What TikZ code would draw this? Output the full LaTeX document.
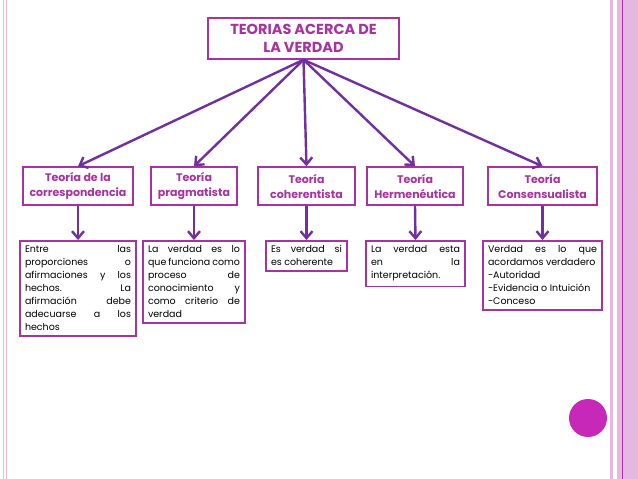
\documentclass[tikz,border=0pt]{standalone}
\usepackage{fontspec}
\setmainfont{Poppins}
\usetikzlibrary{arrows.meta}
\definecolor{borde}{RGB}{168,50,160}
\definecolor{morado}{RGB}{112,48,160}
\definecolor{bola}{RGB}{200,40,184}
\definecolor{franja}{RGB}{228,184,224}
\definecolor{raya}{RGB}{176,48,160}
\begin{document}
\begin{tikzpicture}[x=1pt, y=-1pt,
  caja/.style={draw=borde, line width=1.5pt, fill=white},
  teoria/.style={caja, text=borde, font=\bfseries\fontsize{11}{15}\selectfont, align=center, minimum height=38pt, inner sep=2pt},
  texto/.style={caja, anchor=north, font=\fontsize{9.5}{13}\selectfont, align=justify, inner sep=5pt},
  flecha/.style={draw=morado, line width=2.4pt, -{Straight Barb[length=7pt, width=12pt]}}]
      \fill[white] (0,0) rectangle (638,479);
      \useasboundingbox (0,0) rectangle (638,479);
      \draw[franja, line width=1.2pt] (3.8,0) -- (3.8,479);
      \draw[franja, line width=1.2pt] (6.2,0) -- (6.2,479);
      \draw[franja, line width=2.5pt] (611.5,0) -- (611.5,479);
      \fill[franja] (617,0) rectangle (638,479);
      \draw[raya, line width=1.2pt] (622.5,0) -- (622.5,479);
      \fill[bola] (588,418) circle (19);
      \node (titulo) at (303.5,38.5) [caja, text=borde, font=\bfseries\fontsize{14.5}{18}\selectfont, align=center, minimum width=191pt, minimum height=41pt] {TEORIAS ACERCA DE\\LA VERDAD};
      \node (t1) at (78,186) [teoria, minimum width=110pt] {Teoría de la\\correspondencia};
      \node (t2) at (194,186) [teoria, minimum width=86pt] {Teoría\\pragmatista};
      \node (t3) at (306.5,186) [teoria, minimum width=97pt] {Teoría\\coherentista};
      \node (t4) at (415,186) [teoria, minimum width=96pt] {Teoría\\Hermenéutica};
      \node (t5) at (542.5,186) [teoria, minimum width=109pt] {Teoría\\Consensualista};
      \node (d1) at (78,240) [texto, text width=106pt] {Entre las\linebreak proporciones o\linebreak afirmaciones y los\linebreak hechos. La\linebreak afirmación debe\linebreak adecuarse a los\linebreak hechos};
      \node (d2) at (194,240) [texto, text width=92pt] {La verdad es lo\linebreak que funciona como\linebreak proceso de\linebreak conocimiento y\linebreak como criterio de\linebreak verdad};
      \node (d3) at (306.5,240) [texto, text width=71pt] {Es verdad si\linebreak es coherente};
      \node (d4) at (415.5,240) [texto, text width=89pt] {La verdad esta\linebreak en la\linebreak interpretación.};
      \node (d5) at (542.5,240) [texto, text width=109pt] {Verdad es lo que\linebreak acordamos verdadero\\-Autoridad\\-Evidencia o Intuición\\-Conceso};
      \foreach \source/\dest in {titulo/t1, titulo/t2, titulo/t3, titulo/t4, titulo/t5, t1/d1, t2/d2, t3/d3, t4/d4, t5/d5}
        \path (\source.south) edge[flecha] (\dest.north);
    \end{tikzpicture}
\end{document}
